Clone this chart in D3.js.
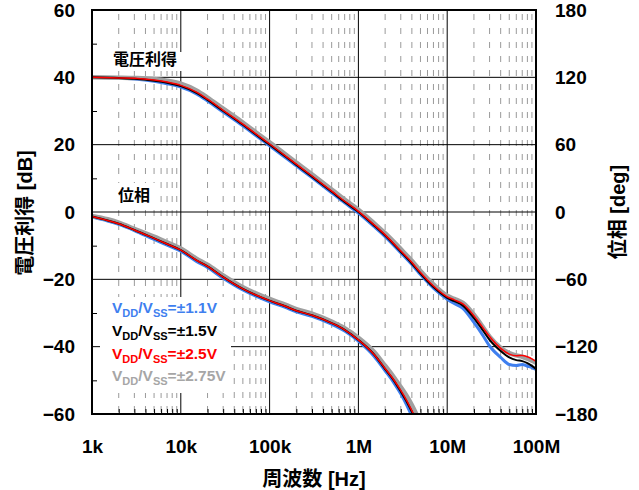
<!DOCTYPE html>
<html><head><meta charset="utf-8">
<script src="https://cdn.jsdelivr.net/npm/d3@7"></script>
<style>
html,body{margin:0;padding:0;background:#fff;}
svg text{font-family:"Liberation Sans",Arial,"Noto Sans CJK JP",sans-serif;font-weight:bold;}
</style></head>
<body>
<svg id="c" width="639" height="490"></svg>
<script>
// ---- data ----
const decadeTicks = [1e3, 1e4, 1e5, 1e6, 1e7, 1e8];
const decadeLabels = ["1k", "10k", "100k", "1M", "10M", "100M"];
const gainTicks = [-60, -40, -20, 0, 20, 40, 60];
const phaseTicks = [-180, -120, -60, 0, 60, 120, 180];

const gainFreq = [1e3,2e3,3e3,5e3,7e3,1e4,1.5e4,2e4,3e4,5e4,7e4,1e5,2e5,3e5,5e5,7e5,1e6,1.5e6,2e6,3e6,4e6,5e6,7e6,1e7,1.2e7,1.5e7,2e7,2.5e7,3e7,4e7,5e7,6e7,7e7,8e7,9e7,1e8];
const gainBlue  = [40.0,39.8,39.5,38.8,38.1,37.1,35.1,33.0,29.7,25.6,22.7,19.7,13.7,10.2,5.7,2.7,-0.3,-4.3,-7.3,-12.1,-15.6,-18.6,-22.6,-25.9,-27.2,-28.6,-32.8,-36.5,-39.8,-43.2,-45.3,-45.6,-45.3,-45.8,-46.2,-46.8];
const gainBlack = [40.0,39.8,39.6,39.0,38.4,37.4,35.4,33.3,30.0,25.9,23.0,20.0,14.0,10.5,6.0,3.0,0.0,-4.0,-7.0,-11.8,-15.3,-18.3,-22.3,-25.5,-26.5,-27.8,-31.5,-35.0,-38.0,-41.3,-43.2,-44.0,-44.3,-44.9,-45.7,-46.6];
const gainRed   = [40.0,39.8,39.7,39.2,38.6,37.6,35.6,33.5,30.2,26.1,23.2,20.2,14.2,10.7,6.2,3.2,0.2,-3.8,-6.8,-11.6,-15.0,-18.0,-22.0,-25.2,-26.1,-27.3,-30.8,-34.2,-37.0,-40.5,-42.2,-42.7,-42.6,-43.0,-43.6,-44.4];
const gainGray  = [40.0,39.9,39.8,39.5,39.0,38.1,36.1,34.0,30.7,26.6,23.7,20.7,14.7,11.2,6.7,3.7,0.7,-3.3,-6.3,-11.0,-14.5,-17.5,-21.5,-24.9,-25.8,-27.0,-30.5,-34.0,-37.0,-40.3,-41.9,-42.6,-43.0,-43.6,-44.2,-44.8];

const phaseFreq = [1e3,1.5e3,2e3,3e3,5e3,7e3,1e4,1.5e4,2e4,3e4,5e4,7e4,1e5,1.5e5,2e5,3e5,5e5,7e5,1e6,1.5e6,2e6,2.5e6,3e6,3.5e6,4e6,5e6];
const phaseBlue  = [-4.5,-8,-11,-16.5,-24.5,-29.5,-35,-44,-49.5,-59,-69.5,-75,-80,-85,-89,-93,-100,-106,-115,-128.5,-141.5,-152,-162,-172,-182,-200];
const phaseBlack = [-4,-7.5,-10.5,-16,-23.5,-28.5,-34,-43,-48.5,-58,-68.5,-74,-79,-84,-88,-92,-99,-105,-114,-127,-140,-150,-160,-169,-178,-195];
const phaseRed   = [-4,-7.5,-10.5,-16,-23.5,-28.5,-34,-43,-48.5,-58,-68.5,-74,-79,-84,-88,-92,-99,-105,-114,-127,-139.5,-149.5,-159,-168,-177,-194];
const phaseGray  = [-3.5,-6.5,-9.5,-15,-22,-27,-32.5,-41.5,-47,-56.5,-67,-72.5,-77.5,-82.5,-86.5,-90.5,-97.5,-103.5,-112,-124.5,-137,-147,-156,-164,-172,-188];

const seriesNames = ["\u00b11.1V", "\u00b11.5V", "\u00b12.5V", "\u00b12.75V"];
const seriesColors = ["#3f7fef", "#000000", "#ff0000", "#a0a0a0"];

// ---- layout ----
const svg = d3.select("#c");
const L = 92, R = 536, T = 10, B = 414;
const x = d3.scaleLog().domain([1e3, 1e8]).range([L, R]);
const yL = d3.scaleLinear().domain([-60, 60]).range([B, T]);
const yR = d3.scaleLinear().domain([-180, 180]).range([B, T]);

svg.append("defs").append("clipPath").attr("id", "clip")
  .append("rect").attr("x", L).attr("y", T).attr("width", R - L).attr("height", B - T);

// minor frequencies
const minor = [];
for (let d = 1e3; d < 1e8; d *= 10) for (let k = 2; k <= 9; k++) minor.push(d * k);

// minor dashed gridlines
svg.append("g").selectAll("line").data(minor).join("line")
  .attr("x1", d => x(d)).attr("x2", d => x(d)).attr("y1", T).attr("y2", B)
  .attr("stroke", "#9a9a9a").attr("stroke-width", 1).attr("stroke-dasharray", "6,8").attr("stroke-dashoffset", -4);

// major gridlines
svg.append("g").selectAll("line").data(decadeTicks.slice(1, -1)).join("line")
  .attr("x1", d => x(d)).attr("x2", d => x(d)).attr("y1", T).attr("y2", B)
  .attr("stroke", "#000").attr("stroke-width", 1);
svg.append("g").selectAll("line").data(gainTicks.slice(1, -1)).join("line")
  .attr("x1", L).attr("x2", R).attr("y1", d => yL(d)).attr("y2", d => yL(d))
  .attr("stroke", "#000").attr("stroke-width", 1);

// minor axis ticks (inward)
const bottomMinor = d3.axisBottom(x).tickValues(minor).tickSize(-5).tickFormat("");
svg.append("g").attr("transform", `translate(0,${B})`).call(bottomMinor)
  .call(g => { g.select(".domain").remove(); g.selectAll("line").attr("stroke", "#000"); });
const leftMinor = d3.axisLeft(yL).tickValues([-50, -30, -10, 10, 30, 50]).tickSize(-5).tickFormat("");
svg.append("g").attr("transform", `translate(${L},0)`).call(leftMinor)
  .call(g => { g.select(".domain").remove(); g.selectAll("line").attr("stroke", "#000"); });

// white boxes behind the in-plot labels
const boxes = svg.append("g").attr("fill", "#fff");
boxes.append("rect").attr("x", 100).attr("y", 52).attr("width", 83).attr("height", 19);
boxes.append("rect").attr("x", 104).attr("y", 183).attr("width", 55).attr("height", 24);
boxes.append("rect").attr("x", 100).attr("y", 297).attr("width", 131).attr("height", 96);

// curves
const plot = svg.append("g").attr("clip-path", "url(#clip)");
const gainLine = d3.line().x(d => x(d[0])).y(d => yL(d[1])).curve(d3.curveMonotoneX);
const phaseLine = d3.line().x(d => x(d[0])).y(d => yR(d[1])).curve(d3.curveMonotoneX);
const gains = [gainBlue, gainBlack, gainRed, gainGray];
const phases = [phaseBlue, phaseBlack, phaseRed, phaseGray];
const widths = [3, 2, 1.5, 4.5];
const order = [0, 3, 1, 2];
order.forEach(i => {
  plot.append("path").datum(gainFreq.map((f, j) => [f, gains[i][j]]))
    .attr("d", gainLine).attr("fill", "none").attr("stroke", seriesColors[i])
    .attr("stroke-width", widths[i]).attr("stroke-linejoin", "round");
  plot.append("path").datum(phaseFreq.map((f, j) => [f, phases[i][j]]))
    .attr("d", phaseLine).attr("fill", "none").attr("stroke", seriesColors[i])
    .attr("stroke-width", widths[i]).attr("stroke-linejoin", "round");
});

// frame
svg.append("rect").attr("x", L).attr("y", T).attr("width", R - L).attr("height", B - T)
  .attr("fill", "none").attr("stroke", "#000").attr("stroke-width", 2);

// axis labels
const leftAxis = d3.axisLeft(yL).tickValues(gainTicks).tickSize(0).tickPadding(17).tickFormat(d3.format("d"));
svg.append("g").attr("transform", `translate(${L},0)`).call(leftAxis)
  .call(g => { g.select(".domain").remove(); g.selectAll("text").attr("font-size", 19).attr("fill", "#000"); });
const rightAxis = d3.axisRight(yR).tickValues(phaseTicks).tickSize(0).tickPadding(19).tickFormat(d3.format("d"));
svg.append("g").attr("transform", `translate(${R},0)`).call(rightAxis)
  .call(g => { g.select(".domain").remove(); g.selectAll("text").attr("font-size", 19).attr("fill", "#000"); });
const bottomAxis = d3.axisBottom(x).tickValues(decadeTicks).tickSize(0).tickPadding(26)
  .tickFormat((d, i) => decadeLabels[i]);
svg.append("g").attr("transform", `translate(0,${B})`).call(bottomAxis)
  .call(g => { g.select(".domain").remove(); g.selectAll("text").attr("font-size", 19).attr("fill", "#000"); });
svg.selectAll("g[font-family]").attr("font-family", null);

// titles
svg.append("text").attr("x", 314).attr("y", 486).attr("text-anchor", "middle")
  .attr("font-size", 20).text("周波数 [Hz]");
svg.append("text").attr("transform", "translate(32,213) rotate(-90)").attr("text-anchor", "middle")
  .attr("font-size", 20).text("電圧利得 [dB]");
svg.append("text").attr("transform", "translate(625,212) rotate(-90)").attr("text-anchor", "middle")
  .attr("font-size", 20).text("位相 [deg]");

// annotations
svg.append("text").attr("x", 113).attr("y", 65).attr("font-size", 16).text("電圧利得");
svg.append("text").attr("x", 118).attr("y", 201).attr("font-size", 16).text("位相");

// legend
seriesNames.forEach((name, i) => {
  const t = svg.append("text").attr("x", 112).attr("y", 313 + i * 22.8)
    .attr("font-size", 15.5).attr("fill", seriesColors[i] === "#a0a0a0" ? "#a6a6a6" : seriesColors[i]);
  t.append("tspan").text("V");
  t.append("tspan").attr("font-size", 11).attr("dy", 4).text("DD");
  t.append("tspan").attr("dy", -4).text("/V");
  t.append("tspan").attr("font-size", 11).attr("dy", 4).text("SS");
  t.append("tspan").attr("dy", -4).text("=" + name);
});
</script>
</body></html>
